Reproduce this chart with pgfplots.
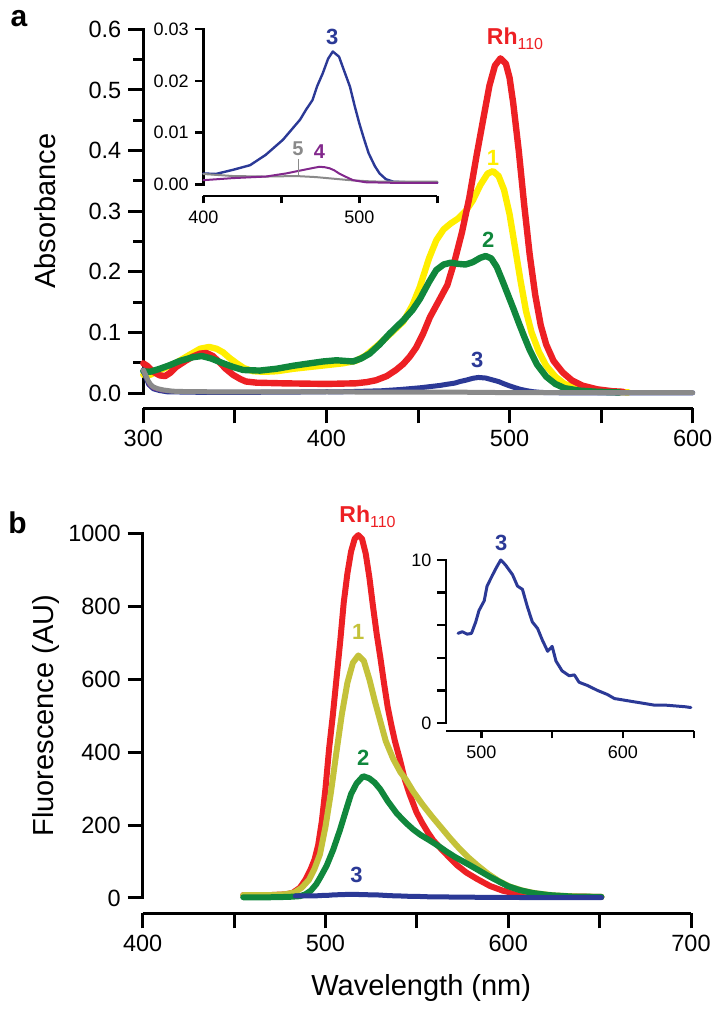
\documentclass[border=0pt]{standalone}
\usepackage{fontspec}
\setmainfont{Liberation Sans}
\usepackage{pgfplots}
\pgfplotsset{compat=1.18}
\definecolor{cred}{RGB}{237,32,36}
\definecolor{cyel}{RGB}{255,238,0}
\definecolor{cgrn}{RGB}{16,135,60}
\definecolor{cblu}{RGB}{43,57,150}
\definecolor{cpur}{RGB}{130,40,140}
\definecolor{cgry}{RGB}{138,138,138}
\definecolor{coli}{RGB}{196,194,58}
\pgfplotsset{
  sepmain/.style={
    scale only axis, axis x line=bottom, axis y line=left,
    x axis line style={-, line width=1.5pt},
    y axis line style={draw=none},
    tick align=outside,
    every tick/.style={line width=1.5pt, black},
    tickwidth=7.5pt, subtickwidth=5pt,
    clip=false, scaled ticks=false,
    /pgf/number format/assume math mode=true, /pgf/number format/1000 sep={},
    tick label style={font=\fontsize{11.75}{13}\selectfont},
    label style={font=\fontsize{14.5}{16}\selectfont},
  },
  sepinset/.style={
    scale only axis, axis x line=bottom, axis y line=left,
    x axis line style={-, line width=1.2pt},
    y axis line style={draw=none},
    tick align=outside,
    every tick/.style={line width=1.2pt, black},
    tickwidth=3.75pt, subtickwidth=3pt,
    clip=false, scaled ticks=false,
    /pgf/number format/assume math mode=true, /pgf/number format/1000 sep={},
    tick label style={font=\fontsize{9}{10}\selectfont},
  },
  curve/.style={line join=round, line cap=round, no markers},
}
\newcommand{\numlab}[1]{\fontsize{11}{12}\selectfont\bfseries #1}
\newcommand{\rhlab}{{\fontsize{11.5}{12}\selectfont\bfseries Rh}{\fontsize{8}{9}\selectfont\raisebox{-2.5pt}{110}}}
\begin{document}
\begin{tikzpicture}
\useasboundingbox (0,0) rectangle (362pt,505.5pt);
% ---------------- panel a main
\begin{axis}[sepmain, at={(71.65pt,301.35pt)}, anchor=south west,
  width=274.7pt, height=189.5pt,
  xmin=300, xmax=600, ymin=-0.0252, ymax=0.6,
  xtick={300,350,400,450,500,550,600}, xticklabels={300,,400,,500,,600},
  ytick={0,0.1,0.2,0.3,0.4,0.5,0.6}, minor ytick={0.05,0.15,0.25,0.35,0.45,0.55},
  yticklabel style={/pgf/number format/.cd, fixed, fixed zerofill, precision=1},
  ylabel={Absorbance},
  ylabel style={at={(axis description cs:-0.179,0.52)}, anchor=center},
]
\draw[line width=1.5pt, line cap=rect] (axis cs:300,0) -- (axis cs:300,0.6);
\pgfplotsinvokeforeach{0,0.1,0.2,0.3,0.4,0.5,0.6}{\draw[line width=1.5pt] (axis cs:300,#1) -- (axis cs:291.8,#1);}
\pgfplotsinvokeforeach{0.05,0.15,0.25,0.35,0.45,0.55}{\draw[line width=1.5pt] (axis cs:300,#1) -- (axis cs:294.5,#1);}
\pgfplotsinvokeforeach{300,350,400,450,500,550,600}{\draw[line width=1.5pt] (axis cs:#1,-0.0252) -- (axis cs:#1,-0.0475);}
\addplot[curve, cyel, line width=3.2pt] coordinates {
(300,0.030)(303.6,0.030)(308,0.036)(313,0.043)(318,0.050)(323,0.059)(327,0.066)(331,0.073)(336,0.076)(340,0.073)(343.6,0.067)(347,0.058)(351,0.049)(355,0.041)(360,0.036)(366,0.035)(373,0.036)(382,0.040)(391,0.043)(400,0.046)(409,0.049)(416,0.053)(421,0.061)(427,0.076)(434,0.095)(442,0.118)(447,0.145)(451,0.175)(456,0.222)(460,0.252)(464,0.270)(468,0.280)(472,0.288)(476,0.300)(480,0.318)(484,0.343)(488,0.362)(491,0.366)(494,0.358)(497,0.335)(500,0.295)(503,0.240)(506,0.185)(509,0.135)(512,0.100)(516,0.068)(520,0.045)(525,0.027)(530,0.015)(537,0.008)(545,0.004)(555,0.002)(565,0.001)};
\addplot[curve, cred, line width=3.2pt] coordinates {
(300,0.049)(302,0.045)(305.5,0.035)(309,0.029)(312,0.028)(315,0.034)(318,0.043)(323,0.053)(327,0.060)(331,0.065)(334.5,0.066)(338,0.061)(341.8,0.050)(345,0.040)(349,0.030)(353,0.023)(356,0.019)(362,0.017)(376,0.016)(400,0.015)(416,0.016)(422,0.018)(427,0.021)(433,0.028)(438,0.038)(442,0.048)(445.5,0.060)(449,0.075)(452.8,0.098)(456.5,0.125)(461,0.150)(466,0.178)(470,0.218)(474,0.265)(478,0.322)(482,0.392)(486,0.458)(489,0.507)(492,0.540)(495,0.552)(498,0.543)(500,0.520)(502,0.478)(505,0.400)(508,0.310)(511,0.228)(514,0.162)(517,0.112)(520,0.080)(524,0.053)(529,0.034)(534,0.021)(540,0.012)(548,0.006)(556,0.003)(562,0.002)};
\addplot[curve, cgrn, line width=3.2pt] coordinates {
(300,0.036)(303.6,0.035)(309,0.040)(314.5,0.046)(320,0.053)(327,0.059)(332,0.061)(337,0.057)(343.6,0.049)(349,0.043)(354.5,0.038)(363.6,0.037)(372.7,0.040)(382,0.045)(391,0.049)(398,0.052)(405.5,0.054)(410,0.053)(414.5,0.052)(419,0.057)(423.6,0.065)(429,0.080)(434.5,0.098)(442,0.120)(447,0.137)(451,0.155)(456,0.183)(460,0.203)(464,0.212)(468,0.215)(472,0.213)(476,0.212)(480,0.216)(484,0.223)(487,0.226)(490,0.222)(493,0.208)(496,0.186)(499,0.163)(502,0.140)(505,0.116)(508,0.093)(511,0.071)(515,0.047)(520,0.027)(525,0.015)(530,0.008)(538,0.004)(548,0.002)(560,0.001)};
\addplot[curve, cblu, line width=2.5pt] coordinates {
(300,0.038)(301.5,0.025)(303,0.014)(305.5,0.007)(309,0.004)(313,0.002)(330,0.0012)(360,0.0012)(380,0.0015)(400,0.0021)(408,0.0020)(419,0.0028)(430,0.0037)(440,0.0057)(451,0.0086)(462,0.0125)(466,0.0145)(470,0.0163)(473,0.019)(476.6,0.0215)(480,0.0243)(483,0.0257)(487,0.0247)(490,0.0222)(494,0.0189)(497,0.0152)(500,0.0118)(503,0.0088)(506,0.0060)(510,0.0035)(513,0.0021)(517,0.0010)(522,0.0005)(530,0.0004)(550,0.0003)(600,0.0003)};
\addplot[curve, cpur, line width=0.9pt] coordinates {
(300,0.034)(301.5,0.022)(303,0.012)(305.5,0.006)(309,0.003)(313,0.0015)(340,0.0009)(370,0.0008)(400,0.0008)(419,0.0012)(440,0.0015)(453,0.0021)(466,0.0029)(474.5,0.0034)(478,0.0033)(481,0.0031)(484,0.0027)(487,0.0021)(491,0.0015)(496,0.0008)(504,0.0004)(520,0.0003)(550,0.0003)(600,0.0003)};
\addplot[curve, cgry, line width=2.5pt] coordinates {
(300,0.038)(301.5,0.028)(302.7,0.020)(304,0.014)(305.5,0.010)(308,0.007)(311,0.005)(316,0.003)(325,0.0022)(360,0.0018)(400,0.0020)(419,0.0016)(440,0.0015)(459.6,0.0016)(472,0.0014)(483,0.0011)(494,0.0008)(505,0.0006)(515,0.0005)(550,0.0005)(600,0.0005)};
\node[text=cred] at (axis cs:503,0.584) {\rhlab};
\node[text=cyel] at (axis cs:491,0.387) {\numlab{1}};
\node[text=cgrn] at (axis cs:488.4,0.252) {\numlab{2}};
\node[text=cblu] at (axis cs:482.4,0.054) {\numlab{3}};
\end{axis}
% ---------------- panel a inset
\begin{axis}[sepinset, at={(101.65pt,407.5pt)}, anchor=south west,
  width=117pt, height=83.35pt,
  xmin=400, xmax=550, ymin=-0.00226, ymax=0.03,
  xtick={400,450,500,550}, xticklabels={400,,500,},
  ytick={0,0.01,0.02,0.03},
  yticklabel style={/pgf/number format/.cd, fixed, fixed zerofill, precision=2},
  restrict x to domain=400:550,
]
\draw[line width=1.2pt, line cap=rect] (axis cs:400,0) -- (axis cs:400,0.03);
\pgfplotsinvokeforeach{0,0.01,0.02,0.03}{\draw[line width=1.2pt] (axis cs:400,#1) -- (axis cs:394.9,#1);}
\pgfplotsinvokeforeach{400,450,500,550}{\draw[line width=1.2pt] (axis cs:#1,-0.00226) -- (axis cs:#1,-0.00361);}
\addplot[curve, cblu, line width=1.2pt] coordinates {
(400,0.0021)(408,0.0020)(419,0.0028)(430,0.0037)(440,0.0057)(451,0.0086)(462,0.0125)(466,0.0145)(470,0.0163)(473,0.019)(476.6,0.0215)(480,0.0243)(483,0.0257)(487,0.0247)(490,0.0222)(494,0.0189)(497,0.0152)(500,0.0118)(503,0.0088)(506,0.0060)(510,0.0035)(513,0.0021)(517,0.0010)(522,0.0005)(530,0.0004)(550,0.0003)};
\addplot[curve, cgry, line width=1pt] coordinates {
(400,0.0020)(419,0.0016)(440,0.0015)(459.6,0.0016)(472,0.0014)(483,0.0011)(494,0.0008)(505,0.0006)(515,0.0005)(550,0.0005)};
\addplot[curve, cpur, line width=1pt] coordinates {
(400,0.0008)(419,0.0012)(440,0.0015)(453,0.0021)(466,0.0029)(474.5,0.0034)(478,0.0033)(481,0.0031)(484,0.0027)(487,0.0021)(491,0.0015)(496,0.0008)(504,0.0004)(520,0.0003)(550,0.0003)};
\draw[cgry, line width=0.6pt] (axis cs:461,0.0049) -- (axis cs:461,0.0017);
\node[text=cblu] at (axis cs:482.6,0.0286) {\numlab{3}};
\node[text=cgry] at (axis cs:460.6,0.0068) {\fontsize{10}{11}\selectfont\bfseries 5};
\node[text=cpur] at (axis cs:474.5,0.0063) {\fontsize{10}{11}\selectfont\bfseries 4};
\end{axis}
% ---------------- panel b main
\begin{axis}[sepmain, at={(71.35pt,48.85pt)}, anchor=south west,
  width=274.15pt, height=190pt,
  xmin=400, xmax=700, ymin=-42, ymax=1000,
  xtick={400,450,500,550,600,650,700}, xticklabels={400,,500,,600,,700},
  ytick={0,200,400,600,800,1000},
  ylabel={Fluorescence (AU)},
  ylabel style={at={(axis description cs:-0.176,0.52)}, anchor=center},
  xlabel={Wavelength (nm)},
  xlabel style={at={(axis description cs:0.508,0)}, anchor=base, yshift=-40.85pt},
]
\draw[line width=1.5pt, line cap=rect] (axis cs:400,0) -- (axis cs:400,1000);
\pgfplotsinvokeforeach{0,200,400,600,800,1000}{\draw[line width=1.5pt] (axis cs:400,#1) -- (axis cs:391.8,#1);}
\pgfplotsinvokeforeach{400,450,500,550,600,650,700}{\draw[line width=1.5pt] (axis cs:#1,-42) -- (axis cs:#1,-79);}
\addplot[curve, cred, line width=3pt] coordinates {
(455,8)(470,8)(478,10)(482,14)(486,28)(489,50)(492,80)(494,105)(496,145)(498,210)(500,300)(502,410)(504,500)(506,600)(508,700)(510,810)(512,890)(514,950)(516,985)(518,995)(520,985)(522,945)(524,880)(526,800)(528,725)(530,660)(532,590)(534,525)(536,475)(538,430)(540.7,380)(543.4,325)(546,285)(549.8,235)(553,205)(556,180)(559,158)(563,136)(568,110)(572,90)(577,70)(583,52)(590,33)(597,20)(605,11)(615,6)(630,4)(651,3)};
\addplot[curve, coli, line width=3pt] coordinates {
(455,8)(470,8)(478,10)(483,15)(487,28)(491,50)(494,80)(497,120)(500,195)(503,290)(506,400)(509,505)(512,590)(515,645)(518,665)(521,650)(524,600)(527,540)(530,485)(533,430)(537,382)(541,345)(544,325)(548,292)(553,257)(558,225)(563,195)(568,165)(573,137)(578,112)(583,90)(589,66)(595,46)(601,31)(608,20)(615,13)(625,7)(638,4)(651,3)};
\addplot[curve, cgrn, line width=3pt] coordinates {
(455,2)(470,2)(480,3)(486,5)(489,10)(492,20)(495,38)(497,55)(500.6,88)(504.2,132)(507.9,186)(511.5,245)(514,285)(517,314)(520.6,334)(524,328)(527,316)(530,298)(534,266)(539,232)(544,206)(548,188)(552,173)(557,158)(562,142)(566,128)(571,112)(575.4,100)(580,87)(584.5,74)(590,58)(595,45)(600,32)(606,22)(613,14)(622,8)(635,4)(651,3)};
\addplot[curve, cblu, line width=2.5pt] coordinates {
(483.5,5.5)(486.5,5.6)(490,5.45)(493,5.5)(496,6.2)(498.3,6.9)(502,7.5)(504,8.4)(508,9.1)(511,9.6)(513.7,10.0)(517,9.7)(522,9.1)(525.5,8.4)(529,8.2)(532.6,7.1)(536,6.2)(539.7,5.8)(543,5.1)(546.8,4.4)(550,4.7)(552.7,3.8)(557,3.2)(562,2.9)(565.7,2.95)(569,2.5)(575,2.3)(582,2.0)(589,1.75)(594,1.5)(601,1.4)(608,1.3)(615,1.2)(622,1.1)(629.5,1.1)(636.6,1.05)(643.7,1.0)(648,0.95)(651,1.0)};
\node[text=cred] at (axis cs:523,1045) {\rhlab};
\node[text=coli] at (axis cs:518,730) {\numlab{1}};
\node[text=cgrn] at (axis cs:520.6,383) {\numlab{2}};
\node[text=cblu] at (axis cs:517,63) {\numlab{3}};
\end{axis}
% ---------------- panel b inset
\begin{axis}[sepinset, at={(223pt,140pt)}, anchor=south west,
  width=123.85pt, height=85.5pt,
  xmin=475, xmax=650, ymin=-0.49, ymax=10,
  xtick={500,550,600,650}, xticklabels={500,,600,},
  ytick={0,2,4,6,8,10}, yticklabels={0,,,,,10},
]
\draw[line width=1.2pt, line cap=rect] (axis cs:475,0) -- (axis cs:475,10);
\pgfplotsinvokeforeach{0,2,4,6,8,10}{\draw[line width=1.2pt] (axis cs:475,#1) -- (axis cs:468.6,#1);}
\pgfplotsinvokeforeach{500,550,600,650}{\draw[line width=1.2pt] (axis cs:#1,-0.49) -- (axis cs:#1,-0.92);}
\addplot[curve, cblu, line width=1.5pt] coordinates {
(483.5,5.5)(486.5,5.6)(490,5.45)(493,5.5)(496,6.2)(498.3,6.9)(502,7.5)(504,8.4)(508,9.1)(511,9.6)(513.7,10.0)(517,9.7)(522,9.1)(525.5,8.4)(529,8.2)(532.6,7.1)(536,6.2)(539.7,5.8)(543,5.1)(546.8,4.4)(550,4.7)(552.7,3.8)(557,3.2)(562,2.9)(565.7,2.95)(569,2.5)(575,2.3)(582,2.0)(589,1.75)(594,1.5)(601,1.4)(608,1.3)(615,1.2)(622,1.1)(629.5,1.1)(636.6,1.05)(643.7,1.0)(648,0.95)};
\node[text=cblu] at (axis cs:514,11.05) {\numlab{3}};
\end{axis}
% panel letters
\node[anchor=base, font=\fontsize{15}{16}\selectfont\bfseries] at (9.5pt,492.15pt) {a};
\node[anchor=base, font=\fontsize{15}{16}\selectfont\bfseries] at (8.75pt,238.6pt) {b};
\end{tikzpicture}
\end{document}
